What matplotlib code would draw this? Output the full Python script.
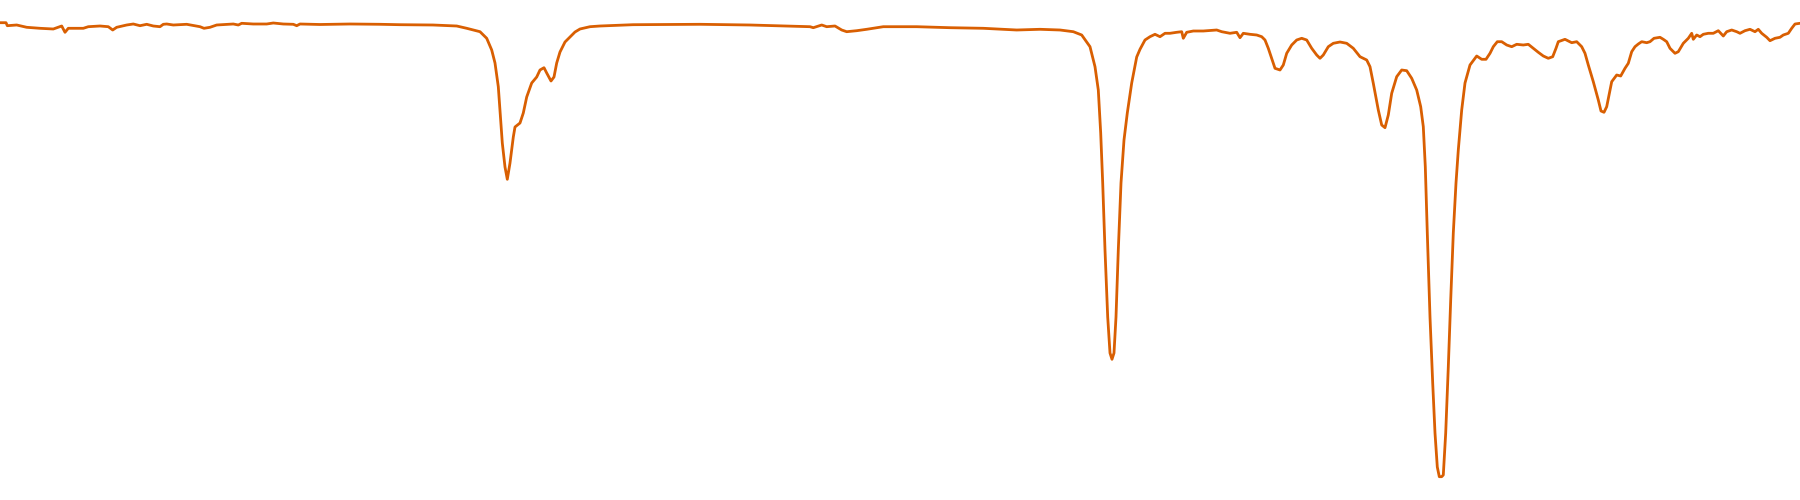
import matplotlib
matplotlib.use("Agg")
import matplotlib.pyplot as plt

# Position along the spectrum (arbitrary units) and depth of the trace (0 = top)
position = [
    0, 6, 7.3, 16.7, 26.7, 40, 53.3, 61.7, 65, 68.3, 83.3, 88.3, 100, 108.3, 112.7, 116.7,
    126.7, 133.3, 140, 146.7, 153.3, 160, 163.3, 166.7, 173.3, 186.7, 200, 204, 210, 216.7,
    233.3, 238.3, 241.7, 253.3, 266.7, 273.3, 283.3, 293.3, 296.7, 300, 320, 350, 380, 400,
    433, 456.7, 466.7, 480, 486.7, 491.7, 495, 498.3, 500, 502.3, 505, 507.3, 510, 513.3,
    515, 520, 523.3, 526.7, 531.7, 536.7, 540, 544, 546.7, 551, 554, 556.7, 560, 565, 570,
    575, 580, 590, 600, 633, 700, 750, 810, 813.3, 821.7, 826.7, 835, 841.7, 846.7, 856.7,
    866.7, 883.3, 916.7, 950, 983.3, 1016.7, 1040, 1060, 1073.3, 1081.7, 1090, 1095, 1098.3,
    1100.7, 1102.7, 1105, 1107.7, 1110, 1112, 1114, 1116, 1118.3, 1121, 1124, 1127.3, 1131.7,
    1136.7, 1140, 1145, 1150, 1155, 1160, 1165, 1170, 1176.7, 1181.7, 1183.3, 1186.7, 1193.3,
    1203.3, 1216.7, 1221.7, 1230, 1236.7, 1240, 1243.3, 1250, 1256.7, 1261.7, 1265, 1268.3,
    1271.7, 1275, 1280, 1283.3, 1286.7, 1291.7, 1296.7, 1301.7, 1306.7, 1311.7, 1316.7, 1320,
    1323.3, 1328.3, 1333.3, 1340, 1346.7, 1353.3, 1360, 1366.7, 1370, 1373.3, 1378.3, 1381.7,
    1385, 1388.3, 1391.7, 1396.7, 1401.7, 1406.7, 1411.7, 1416.7, 1420.7, 1423.3, 1425.3,
    1427.3, 1430, 1432.7, 1435, 1437.3, 1439.3, 1441.7, 1443.3, 1445.7, 1448.3, 1450.7,
    1453.3, 1456, 1458.3, 1461.7, 1465, 1470, 1476.7, 1481.7, 1486, 1490, 1493.3, 1497.3,
    1501.7, 1506.7, 1511.7, 1516.7, 1523.3, 1528.3, 1533.3, 1538.3, 1543.3, 1548.3, 1552.7,
    1556, 1558.3, 1565, 1571.7, 1576.7, 1581.7, 1585, 1588.3, 1593.3, 1598.3, 1601, 1604,
    1606.7, 1611.7, 1616.7, 1620.7, 1625, 1628.3, 1631.7, 1635, 1638.3, 1641.7, 1646.7,
    1650, 1654, 1660, 1663.3, 1666.7, 1670, 1675, 1678.3, 1683.3, 1688.3, 1691.7, 1693.3,
    1696.7, 1700, 1703.3, 1708.3, 1713.3, 1718.3, 1723.3, 1726.7, 1731.7, 1736.7, 1740,
    1745, 1750, 1755, 1758.3, 1761.7, 1766.7, 1770, 1775, 1780, 1783.3, 1788.3, 1791.7,
    1795, 1800,
]
depth = [
    22.7, 22.7, 25.7, 25, 27.3, 28.3, 29, 26, 32.3, 28.3, 28.3, 26.7, 26, 26.7, 30, 27.3,
    25, 24, 25.7, 24.3, 26, 26.7, 24.3, 24, 25, 24.3, 26.7, 28.3, 27.3, 25,
    24, 25, 23.3, 24, 24, 23, 24, 24.3, 25.7, 24, 24.5, 24, 24.3, 24.7,
    25, 26, 28.3, 31.7, 38.3, 50, 63, 86.7, 110, 143, 167, 179.3, 163, 137,
    127, 123, 113, 97, 83, 77, 70, 67.7, 73, 81, 77, 63, 52, 42, 37,
    32, 29, 26.7, 26, 24.7, 24.3, 25, 26.7, 27.7, 25, 26.7, 26, 30, 31.7, 30.7,
    29.3, 26.7, 26.7, 27.7, 28.3, 30, 29.3, 30, 31.7, 35, 46.7, 66.7, 90,
    133, 183, 250, 317, 353, 359.3, 353, 317, 250, 183, 140, 113, 83,
    57, 49.3, 40, 36.7, 34.3, 36.7, 33.3, 33.3, 32.3, 31.7, 38.3, 32.3, 31,
    31, 30, 31.7, 33.3, 32.3, 37.7, 33.3, 34.3, 35, 36.7, 40, 48.3,
    58.3, 68.3, 70, 65, 53.3, 45, 40, 38.3, 40, 48.3, 55, 58.3,
    55, 46.7, 43.3, 42, 43.3, 48.3, 56.7, 60, 66.7, 83.3, 110, 125,
    127.7, 115, 93.3, 76.7, 70, 70.7, 78.3, 90, 106.7, 126.7, 166.7,
    233, 317, 383, 433, 467, 476.7, 476.7, 475, 433, 367, 300,
    233, 183, 150, 110, 83, 65, 56, 59.3, 59.3, 53.3, 46.7, 41.7,
    41.7, 45, 46.7, 44.3, 45, 44.3, 48.3, 52.3, 56, 58.3, 56.7,
    48.3, 41.7, 39.3, 42.7, 41.7, 46.7, 53.3, 65, 81.7, 100, 111, 112.3,
    106.7, 81.7, 75, 76, 68.3, 63.3, 51.7, 46.7, 44, 41.7, 42.7,
    41.7, 38.3, 37.3, 39.3, 41.7, 48.3, 53.3, 51.7, 43.3, 38.3, 33.3, 39.3,
    35, 36.7, 34.3, 33.3, 33.3, 30.7, 36, 31.7, 30, 31.7, 33.3,
    30.7, 29.3, 31.7, 29.3, 33.3, 37.3, 40.7, 38.3, 37.3, 35, 33.3, 28.3,
    24, 23.3,
]

fig = plt.figure(figsize=(18, 5), dpi=100)
ax = fig.add_axes([0, 0, 1, 1])
ax.plot(position, depth, color="#d95f02", linewidth=2.0,
        solid_joinstyle="round", solid_capstyle="round")
ax.set_xlim(0, 1800)
ax.set_ylim(500, 0)
ax.axis("off")
fig.savefig("out.png", dpi=100, facecolor="white")
